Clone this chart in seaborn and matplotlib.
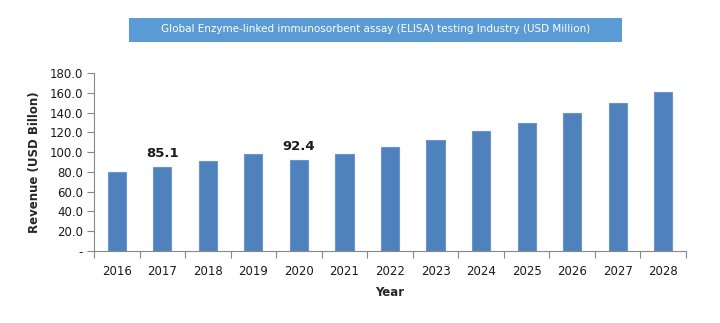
import matplotlib
matplotlib.use("Agg")
import matplotlib.pyplot as plt
from matplotlib.patches import Rectangle
from matplotlib.ticker import FixedLocator, FuncFormatter
import seaborn as sns
import pandas as pd

years = ["2016", "2017", "2018", "2019", "2020", "2021", "2022",
         "2023", "2024", "2025", "2026", "2027", "2028"]
revenue = [80.0, 85.1, 91.2, 97.6, 92.4, 97.7, 105.4,
           112.1, 121.0, 129.6, 139.2, 150.0, 160.9]
labeled = {"2017": "85.1", "2020": "92.4"}
title = "Global Enzyme-linked immunosorbent assay (ELISA) testing Industry (USD Million)"

sns.set_style("white")
plt.rcParams["font.family"] = ["DejaVu Sans"]

df = pd.DataFrame({"Year": years, "Revenue": revenue})

fig = plt.figure(figsize=(7.2, 3.23), dpi=100)
ax = fig.add_axes([94 / 720, 1 - 251 / 323, (686 - 94) / 720, (251 - 73) / 323])

sns.barplot(data=df, x="Year", y="Revenue", ax=ax, width=0.4,
            color="#4F81BD", saturation=1, edgecolor="#6A96CC", linewidth=0.8)

ax.set_ylim(0, 180)
ax.set_xlim(-0.5, len(years) - 0.5)
ax.yaxis.set_major_locator(FixedLocator(range(0, 181, 20)))
ax.yaxis.set_major_formatter(FuncFormatter(lambda v, p: "-" if v == 0 else f"{v:.1f}"))

# tick marks at category boundaries
ax.set_xticks([i - 0.5 for i in range(len(years) + 1)], minor=True)
ax.tick_params(axis="x", which="minor", bottom=True, length=5, width=0.8,
               color="#888888", direction="out")
ax.tick_params(axis="x", which="major", bottom=True, length=0, pad=10,
               labelsize=8.5, labelcolor="#1a1a1a")
ax.tick_params(axis="y", which="major", left=True, length=5, width=0.8, color="#888888",
               direction="out", labelsize=8.5, labelcolor="#1a1a1a", pad=3)

for s in ["top", "right"]:
    ax.spines[s].set_visible(False)
for s in ["left", "bottom"]:
    ax.spines[s].set_color("#888888")
    ax.spines[s].set_linewidth(0.8)

ax.set_xlabel("Year", fontsize=8.5, fontweight="bold", labelpad=6)
ax.set_ylabel("Revenue (USD Billon)", fontsize=8.5, fontweight="bold", labelpad=6)

for i, (y, v) in enumerate(zip(years, revenue)):
    if y in labeled:
        ax.text(i, v + 7, labeled[y], ha="center", va="bottom",
                fontsize=9.5, fontweight="bold", color="#1a1a1a")

fig.patches.append(Rectangle((129 / 720, 1 - 42 / 323), (622 - 129) / 720, 24 / 323,
                             transform=fig.transFigure, facecolor="#5B9BD5",
                             edgecolor="none", zorder=0))
fig.text((129 + 622) / 2 / 720, 1 - 29 / 323, title, ha="center", va="center",
         color="white", fontsize=7.5)

fig.savefig("out.png", dpi=100, facecolor="white")
